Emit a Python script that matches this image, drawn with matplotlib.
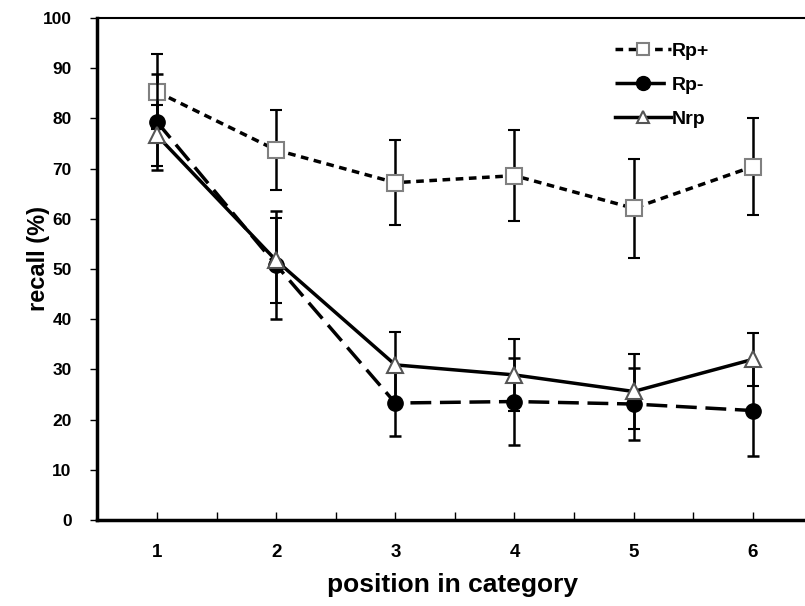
import matplotlib
matplotlib.use("Agg")
import matplotlib.pyplot as plt
from matplotlib.lines import Line2D
import numpy as np

plt.rcParams['font.family'] = ['Liberation Sans', 'DejaVu Sans']

positions = [1, 2, 3, 4, 5, 6]
rp_plus = [85.3, 73.7, 67.2, 68.6, 62.1, 70.4]
rp_plus_err = [7.5, 8.0, 8.4, 9.0, 9.9, 9.7]
rp_minus = [79.3, 50.8, 23.3, 23.6, 23.1, 21.8]
rp_minus_err = [9.5, 10.7, 6.6, 8.6, 7.1, 9.0]
nrp = [76.6, 51.7, 30.9, 28.9, 25.6, 32.0]
nrp_err = [6.0, 8.5, 6.6, 7.1, 7.5, 5.3]
yticks = [0, 10, 20, 30, 40, 50, 60, 70, 80, 90, 100]

fig = plt.figure(figsize=(8.05, 6.06), dpi=100)
ax = fig.add_axes([97.4 / 805, 86 / 606, 715 / 805, 502 / 606])

ekw = dict(ecolor='black', elinewidth=1.8, capsize=4, capthick=1.8)

st_plus = dict(color='black', lw=2.5, dashes=(2.2, 1.6), marker='s',
               mfc='white', mec='#808080', mew=1.5)
st_minus = dict(color='black', lw=2.5, dashes=(6, 2.5), marker='o',
                mfc='black', mec='black')
st_nrp = dict(color='black', lw=2.5, ls='-', marker='^', mfc='white',
              mec='#555555', mew=1.5)

ax.errorbar(positions, rp_plus, yerr=rp_plus_err, ms=11, zorder=3, **st_plus, **ekw)
ax.errorbar(positions, rp_minus, yerr=rp_minus_err, ms=11, zorder=4, **st_minus, **ekw)
ax.errorbar(positions, nrp, yerr=nrp_err, ms=11, zorder=5, **st_nrp, **ekw)

ax.set_xlim(0.5, 6.5)
ax.set_ylim(0, 100)
ax.set_yticks(yticks)
ax.set_yticklabels([str(v) for v in yticks], fontsize=12.5, fontweight='bold')
ax.set_xticks(positions)
ax.set_xticklabels([str(p) for p in positions], fontsize=13.5, fontweight='bold')
ax.set_xticks(np.arange(0.5, 6.6, 0.5), minor=True)
ax.tick_params(axis='y', direction='out', length=5, width=1, pad=13.5)
ax.tick_params(axis='x', which='both', direction='in', length=6, width=1, pad=17)

for s in ['left', 'bottom']:
    ax.spines[s].set_linewidth(2.5)
ax.spines['top'].set_linewidth(1.5)
ax.spines['right'].set_visible(False)

ax.set_ylabel('recall (%)', fontsize=17, fontweight='bold')
ax.yaxis.set_label_coords(-0.066, 0.52)
ax.set_xlabel('position in category', fontsize=19, fontweight='bold')
ax.xaxis.set_label_coords(0.497, -0.105)

handles = [
    Line2D([], [], ms=9, label='Rp+', **st_plus),
    Line2D([], [], ms=10, label='Rp-', **st_minus),
    Line2D([], [], ms=9, label='Nrp', **st_nrp),
]
ax.legend(handles=handles, loc='upper left', bbox_to_anchor=(0.699, 0.987),
          frameon=False, prop={'weight': 'bold', 'size': 14},
          handlelength=2.9, handletextpad=0.05, labelspacing=0.85)

fig.savefig('out.png', dpi=100)
